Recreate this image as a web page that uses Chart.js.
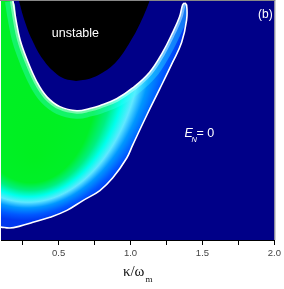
<!DOCTYPE html>
<html>
<head>
<meta charset="utf-8">
<script src="https://cdn.jsdelivr.net/npm/chart.js@4/dist/chart.umd.min.js"></script>
<style>
html,body{margin:0;padding:0;background:#fff;}
canvas{display:block;}
</style>
</head>
<body>
<canvas id="c" width="284" height="289"></canvas>
<script>
// ---- data (x = kappa/omega_m, y = normalised vertical level 0..1) ----
const upperKappa = [0.183,0.204,0.232,0.280,0.350,0.419,0.509,0.627,0.717,0.786,0.904,1.015,1.133,1.223,1.293,1.341,1.362,1.376];
const upperLevel = [1.000,0.921,0.839,0.756,0.661,0.599,0.558,0.541,0.550,0.562,0.591,0.636,0.702,0.785,0.868,0.934,0.983,0.992];
const lowerKappa = [1.376,1.390,1.390,1.355,1.293,1.203,1.112,1.015,0.974,0.877,0.787,0.669,0.558,0.440,0.322,0.232,0.162,0.100];
const lowerLevel = [0.992,0.983,0.921,0.826,0.744,0.632,0.521,0.397,0.343,0.260,0.207,0.165,0.124,0.095,0.074,0.058,0.050,0.054];
const unstableKappa = [0.225,0.262,0.315,0.391,0.488,0.578,0.669,0.787,0.904,1.015,1.085,1.133];
const unstableLevel = [1.000,0.921,0.839,0.756,0.694,0.669,0.669,0.694,0.748,0.847,0.930,1.000];
const kappaMin = 0.1, kappaMax = 2.0;
const majorTicks = [0.5,1.0,1.5,2.0];
const minorTicks = [0.25,0.75,1.25,1.75];
const tickLabels = ['0.5','1.0','1.5','2.0'];
const axisTitle = 'κ/ω', axisTitleSub = 'm';

const toPts = (xs, ys) => xs.map((x,i)=>({x, y: ys[i]}));
const upperPts = toPts(upperKappa, upperLevel);
const lowerPts = toPts(lowerKappa, lowerLevel);
const unstablePts = toPts(unstableKappa, unstableLevel);
const crescentPts = [{x: kappaMin, y: 1}].concat(upperPts, lowerPts.slice(1));

let patCache = null;
function crescentFill(ctx){
  const chart = ctx.chart;
  const area = chart.chartArea;
  if(!area) return '#0040ff';
  const key = chart.width+'x'+chart.height+':'+area.left+','+area.top+','+area.right+','+area.bottom;
  if(patCache && patCache.key === key) return patCache.pat;
  const xs = chart.scales.x, ys = chart.scales.y;
  const off = document.createElement('canvas');
  off.width = chart.width; off.height = chart.height;
  const o = off.getContext('2d');
  const sx = 1.03, sy = 1.6;
  o.setTransform(sx,0,0,sy,0,0);
  const cx = xs.getPixelForValue(0.336)/sx, cy = ys.getPixelForValue(0.345)/sy;
  const w = area.right-area.left;
  const g = o.createRadialGradient(cx, cy, 0, cx-0.036*w, cy-0.44*w, 0.584*w);
  g.addColorStop(0.00,'#00f020');
  g.addColorStop(0.40,'#00f028');
  g.addColorStop(0.52,'#00f080');
  g.addColorStop(0.62,'#00ffec');
  g.addColorStop(0.71,'#60e8ff');
  g.addColorStop(0.80,'#0098ff');
  g.addColorStop(0.91,'#0058ff');
  g.addColorStop(1.00,'#0038f0');
  o.fillStyle = g;
  o.fillRect(0,0,off.width/sx,off.height/sy);
  const pat = chart.ctx.createPattern(off,'no-repeat');
  patCache = {key, pat};
  return pat;
}

const bgPlugin = {
  id:'bg',
  beforeDatasetDraw(chart, args){
    const ds = chart.data.datasets[args.index];
    if(ds.band){
      chart.ctx.save();
      chart.ctx.globalCompositeOperation = 'source-atop';
    }
  },
  afterDatasetDraw(chart, args){
    const ds = chart.data.datasets[args.index];
    if(ds.band) chart.ctx.restore();
  },
  afterDatasetsDraw(chart){
    const {ctx, chartArea:a, scales} = chart;
    ctx.save();
    ctx.globalCompositeOperation = 'destination-over';
    ctx.fillStyle = '#000088';
    ctx.fillRect(a.left, a.top, a.right-a.left, a.bottom-a.top);
    ctx.restore();
    ctx.save();
    ctx.strokeStyle = '#888';
    ctx.lineWidth = 1;
    ctx.beginPath();
    ctx.moveTo(0, a.top-0.5); ctx.lineTo(a.right+1, a.top-0.5);
    ctx.moveTo(a.right+0.5, a.top-0.5); ctx.lineTo(a.right+0.5, a.bottom);
    ctx.stroke();
    ctx.fillStyle = '#fff';
    ctx.textBaseline = 'alphabetic';
    ctx.textAlign = 'center';
    ctx.font = '12.5px "Liberation Sans", Arial, sans-serif';
    ctx.fillText('unstable', scales.x.getPixelForValue(0.617), scales.y.getPixelForValue(0.85));
    ctx.font = '12px "Liberation Sans", Arial, sans-serif';
    ctx.fillText('(b)', a.right-9, a.top+17);
    // E_N = 0
    ctx.textAlign = 'left';
    const ex = scales.x.getPixelForValue(1.376), ey = scales.y.getPixelForValue(0.43);
    ctx.font = 'italic 12.5px "Liberation Sans", Arial, sans-serif';
    ctx.fillText('E', ex, ey);
    const wE = ctx.measureText('E').width;
    ctx.font = 'italic 7.5px "Liberation Sans", Arial, sans-serif';
    ctx.fillText('N', ex+wE-1.5, ey+5);
    ctx.font = '12.5px "Liberation Sans", Arial, sans-serif';
    ctx.fillText('= 0', ex+wE+3.5, ey);
    ctx.restore();
  },
  afterDraw(chart){
    // x-axis title with subscript
    const {ctx, chartArea:a} = chart;
    ctx.save();
    ctx.fillStyle = '#111';
    ctx.textBaseline = 'alphabetic';
    ctx.textAlign = 'left';
    ctx.font = '15px "Liberation Serif", "DejaVu Serif", serif';
    const w1 = ctx.measureText(axisTitle).width;
    ctx.font = '9px "Liberation Serif", "DejaVu Serif", serif';
    const w2 = ctx.measureText(axisTitleSub).width;
    const x0 = (a.left + a.right)/2 - (w1 + w2 + 1)/2;
    const base = a.bottom + 36;
    ctx.font = '15px "Liberation Serif", "DejaVu Serif", serif';
    ctx.fillText(axisTitle, x0, base);
    ctx.font = '9px "Liberation Serif", "DejaVu Serif", serif';
    ctx.fillText(axisTitleSub, x0 + w1 + 1, base + 6);
    ctx.restore();
  }
};

const common = {showLine:true, pointRadius:0, pointHoverRadius:0, tension:0.4};

new Chart(document.getElementById('c'), {
  type:'scatter',
  data:{
    datasets:[
      Object.assign({data: upperPts, borderColor:'#ffffff', borderWidth:1.6, fill:false, order:1}, common),
      Object.assign({data: lowerPts, borderColor:'#ffffff', borderWidth:1.6, fill:false, order:2}, common),
      Object.assign({data: unstablePts, borderColor:'#000000', borderWidth:0, backgroundColor:'#000000', fill:'end', order:3}, common),
      Object.assign({data: upperPts, borderColor:'rgba(235,255,255,0.45)', borderWidth:6, fill:false, order:4, band:true}, common),
      Object.assign({data: upperPts, borderColor:'rgba(60,255,255,0.3)', borderWidth:16, fill:false, order:5, band:true}, common),
      Object.assign({data: crescentPts, borderColor:'rgba(0,0,0,0)', borderWidth:0, backgroundColor: crescentFill, fill:'shape', order:6}, common)
    ]
  },
  options:{
    responsive:false,
    animation:false,
    events:[],
    layout:{padding:{left:1, top:1, right:9, bottom:26.6}},
    plugins:{legend:{display:false}, tooltip:{enabled:false}},
    scales:{
      x:{
        type:'linear', min:kappaMin, max:kappaMax,
        afterBuildTicks(scale){
          scale.ticks = majorTicks.concat(minorTicks).sort((a,b)=>a-b).map(v=>({value:v}));
        },
        ticks:{
          autoSkip:false, maxRotation:0, padding:3, color:'#444',
          font:{family:'"Liberation Sans", Arial, sans-serif', size:9.5},
          callback(v){ const i = majorTicks.findIndex(m=>Math.abs(m-v)<1e-6); return i>=0 ? tickLabels[i] : ''; }
        },
        grid:{display:true, drawOnChartArea:false, drawTicks:true, tickLength:5, color:'#000', tickColor:'#000'},
        border:{display:true, color:'#000', width:1},
        title:{display:false}
      },
      y:{type:'linear', min:0, max:1, display:false}
    }
  },
  plugins:[bgPlugin]
});
</script>
</body>
</html>
